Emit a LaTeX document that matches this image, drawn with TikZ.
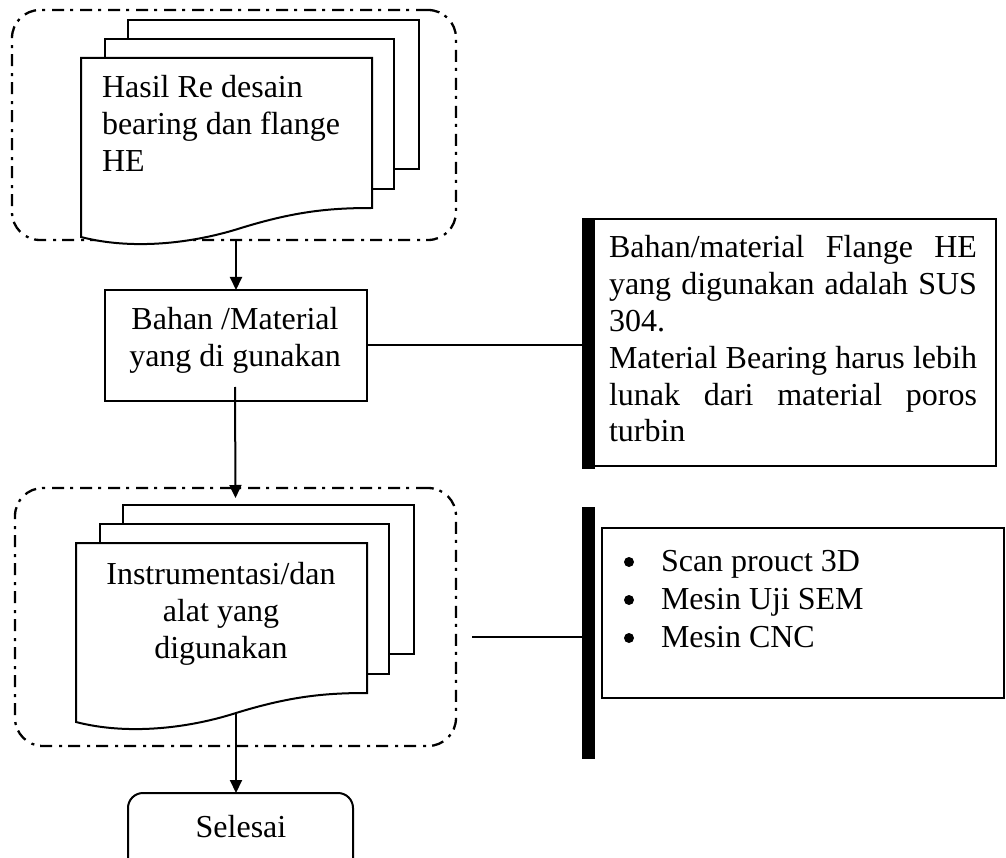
\documentclass[tikz,border=0pt]{standalone}
\usepackage{fontspec}
\setmainfont{Liberation Serif}
\usetikzlibrary{arrows.meta,calc}

\tikzset{
  frame/.style={draw, fill=white, line width=2pt, inner sep=0pt, outer sep=0pt},
  groupbox/.style={draw, line width=2.3pt, rounded corners=28pt,
    dash pattern=on 12pt off 7pt on 3pt off 6pt, inner sep=0pt, outer sep=0pt},
  page/.style={draw, fill=white, line width=2pt},
  conn/.style={line width=2pt},
  arr/.style={conn, -{Triangle[length=13pt,width=12pt]}},
  bar/.style={fill=black, inner sep=0pt, outer sep=0pt},
  lbl/.style={inner sep=0pt, outer sep=0pt},
  listdot/.style={fill=black},
}

% stack of three pages, the front one with a wavy lower edge
\newcommand\pagestack[1]{%
  \draw[page] (47,-38) rectangle (338,111);
  \draw[page] (24,-19) rectangle (313,131);
  \draw[page] (0,0) -- (291,0) -- (291,150)
    .. controls (250,150) and (215,153) .. (160,170)
    .. controls (110,186) and (50,192) .. (0,179) -- cycle;
  \coordinate (#1wave) at (160,170);
}

\begin{document}
\begin{tikzpicture}[x=1pt,y=-1pt,font=\fontsize{32}{37}\selectfont]
\useasboundingbox (0,0) rectangle (1006,858);
\clip (0,0) rectangle (1006,858);

% upper group: design result
\node[groupbox, minimum width=444pt, minimum height=230pt] (grpA) at (234,125) {};
\begin{scope}[shift={(81,58)}]
  \pagestack{docA}
  \node[lbl, anchor=base west] (docAtext) at (21,40)
    {\parbox[t]{280pt}{\raggedright Hasil Re desain\\bearing dan flange\\HE}};
\end{scope}

% material box
\node[frame, minimum width=262pt, minimum height=111pt] (bahan) at (236,345.5) {};
\node[lbl, anchor=base] (bahantext) at (235,330)
  {\parbox[t]{250pt}{\centering Bahan /Material\\yang di gunakan}};

% lower group: instruments
\node[groupbox, minimum width=441pt, minimum height=258pt] (grpB) at (235.5,617) {};
\begin{scope}[shift={(76,543)}]
  \pagestack{docB}
  \node[lbl, anchor=base] (docBtext) at (145,41)
    {\parbox[t]{280pt}{\centering Instrumentasi/dan\\alat yang\\digunakan}};
\end{scope}

% end terminal
\node[frame, rounded corners=15pt, minimum width=225pt, minimum height=80pt] (sel) at (240.5,833) {};
\node[lbl, anchor=base] (seltext) at (241,837) {Selesai};

% flow arrows
\draw[arr] (bahan.north |- grpA.south) -- (bahan.north);
\draw[arr] ($(bahan.south)+(-1,-14)$) -- ($(grpB.north)+(0,10)$);
\draw[arr] (docBwave) -- (docBwave |- sel.north);

% annotation: materials
\node[frame, minimum width=408pt, minimum height=247pt] (infoA) at (792,342.5) {};
\node[bar, minimum width=13pt, minimum height=251pt] (barA) at (588.5,343.5) {};
\node[lbl, anchor=base west] (infoAtext) at (609,258)
  {\parbox[t]{368pt}{\fontsize{32}{36.8}\selectfont\hyphenpenalty=10000
   Bahan/material Flange HE\linebreak yang digunakan adalah SUS\linebreak 304.\par
   Material Bearing harus lebih\linebreak lunak dari material poros\linebreak turbin}};
\draw[conn] (bahan.east) -- (bahan.east -| barA.west);

% annotation: instruments
\node[frame, minimum width=402pt, minimum height=170pt] (infoB) at (803,613) {};
\node[bar, minimum width=13pt, minimum height=252pt] (barB) at (588.5,633) {};
\node[lbl, anchor=base west] (infoBtext) at (661,571)
  {\parbox[t]{330pt}{\fontsize{32}{38}\selectfont
   Scan prouct 3D\\Mesin Uji SEM\\Mesin CNC}};
\foreach \yy in {562,600,638} \fill[listdot] (629,\yy) circle (5pt);
\coordinate (lstart) at (472,637);
\draw[conn] (lstart) -- (lstart -| barB.west);
\end{tikzpicture}
\end{document}
